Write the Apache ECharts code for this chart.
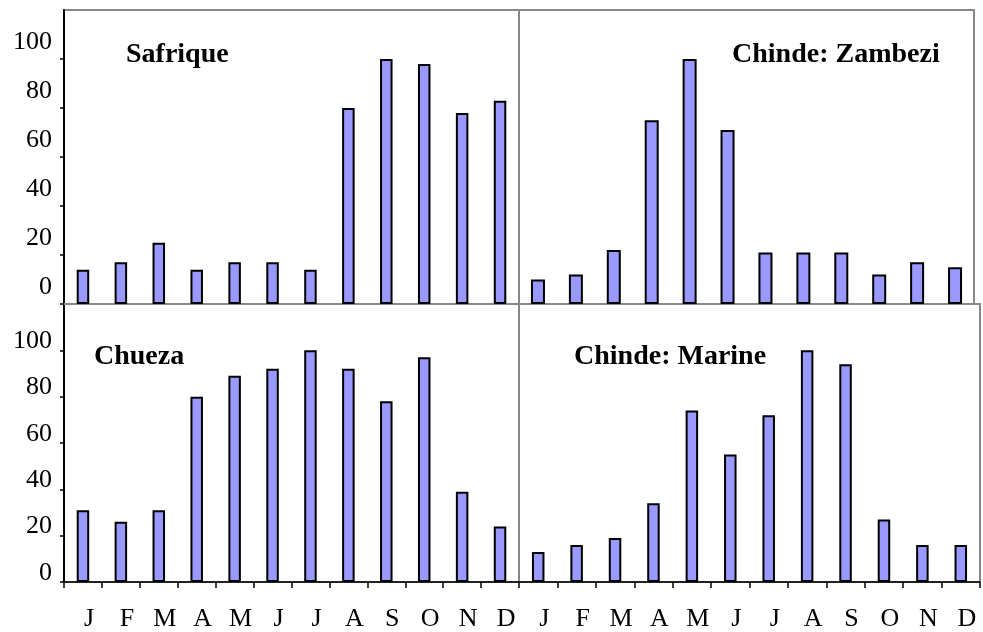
<!DOCTYPE html>
<html>
<head>
<meta charset="utf-8">
<script src="https://cdn.jsdelivr.net/npm/echarts@6/dist/echarts.min.js"></script>
<style>
  html, body { margin: 0; padding: 0; background: #fff; }
  #chart { width: 983px; height: 632px; }
</style>
</head>
<body>
<div id="chart"></div>
<script>
// monthly values (percent of max) for each station
var months = ['J', 'F', 'M', 'A', 'M', 'J', 'J', 'A', 'S', 'O', 'N', 'D']
var safrique = [14, 17, 25, 14, 17, 17, 14, 80, 100, 98, 78, 83]
var zambezi = [10, 12, 22, 75, 100, 71, 21, 21, 21, 12, 17, 15]
var chueza = [31, 26, 31, 80, 89, 92, 100, 92, 78, 97, 39, 24]
var marine = [13, 16, 19, 34, 74, 55, 72, 100, 94, 27, 16, 16]
var yTicks = [0, 20, 40, 60, 80, 100]
var panelNames = ['Safrique', 'Chinde: Zambezi', 'Chueza', 'Chinde: Marine']

var SERIF = '"Liberation Serif", "Times New Roman", serif'
var GRAY = '#888888'
var BAR = '#9999FF'

var grids = [
  { left: 64, top: 10, width: 455, height: 294 },
  { left: 519, top: 10, width: 455, height: 294 },
  { left: 64, top: 304, width: 455, height: 278 },
  { left: 519, top: 304, width: 461, height: 279 }
]
grids.forEach(function(g) {
  g.show = true
  g.borderColor = GRAY
  g.borderWidth = 2
  g.containLabel = false
})

function xAxisFor(i) {
  var bottom = i >= 2
  return {
    type: 'category',
    gridIndex: i,
    data: months,
    boundaryGap: true,
    axisLine: {
      show: true,
      lineStyle: { color: bottom ? '#000' : GRAY, width: bottom ? 1.5 : 2 }
    },
    axisTick: {
      show: bottom,
      length: 6,
      lineStyle: { color: '#000', width: 1.5 }
    },
    axisLabel: {
      show: bottom,
      color: '#000',
      fontFamily: SERIF,
      fontSize: 26,
      margin: 24,
      padding: [0, 0, 0, 12]
    },
    splitLine: { show: false }
  }
}

function yAxisFor(i) {
  var left = i === 0 || i === 2
  return {
    type: 'value',
    gridIndex: i,
    min: 0,
    max: 120,
    interval: 20,
    show: left,
    axisLine: { show: true, lineStyle: { color: '#000', width: 2 } },
    axisTick: {
      show: true,
      length: 4,
      customValues: yTicks,
      lineStyle: { color: '#000', width: 1.5 }
    },
    axisLabel: {
      customValues: yTicks,
      color: '#000',
      fontFamily: SERIF,
      fontSize: 26,
      margin: 12,
      // labels sit a bit above their ticks in the original
      verticalAlign: 'bottom',
      lineHeight: i === 0 ? 34 : 18
    },
    splitLine: { show: false }
  }
}

var titlePos = [
  { left: 126, top: 41 },
  { left: 732, top: 41 },
  { left: 94, top: 343 },
  { left: 574, top: 343 }
]

var chart = echarts.init(document.getElementById('chart'))
chart.setOption({
  animation: false,
  backgroundColor: '#fff',
  title: panelNames.map(function(name, i) {
    return {
      text: name,
      left: titlePos[i].left,
      top: titlePos[i].top,
      padding: 0,
      textStyle: { fontFamily: SERIF, fontSize: 28, fontWeight: 'bold', color: '#000' }
    }
  }),
  grid: grids,
  xAxis: [0, 1, 2, 3].map(xAxisFor),
  yAxis: [0, 1, 2, 3].map(yAxisFor),
  series: [safrique, zambezi, chueza, marine].map(function(d, i) {
    return {
      name: panelNames[i],
      type: 'bar',
      xAxisIndex: i,
      yAxisIndex: i,
      barWidth: i === 1 ? 14 : 12.5,
      data: d,
      itemStyle: { color: BAR, borderColor: '#000', borderWidth: 2 }
    }
  })
})
</script>
</body>
</html>
